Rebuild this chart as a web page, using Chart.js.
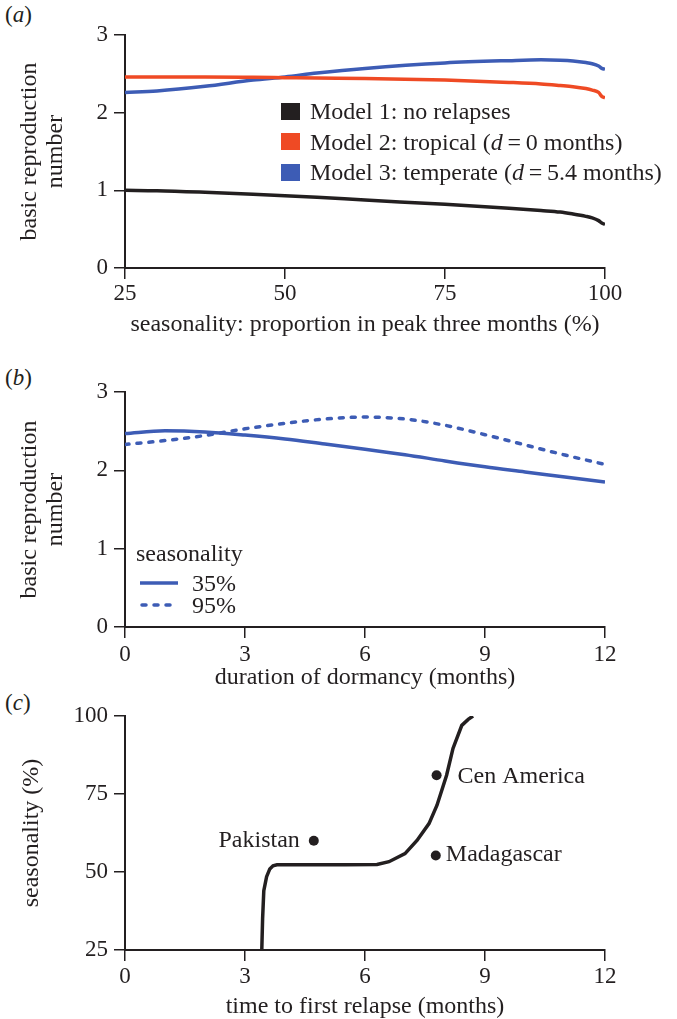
<!DOCTYPE html>
<html>
<head>
<meta charset="utf-8">
<script src="https://cdn.jsdelivr.net/npm/chart.js@4.4.1/dist/chart.umd.min.js"></script>
<style>
  body { margin: 0; background: #fff; width: 677px; height: 1019px; position: relative; overflow: hidden;
         font-family: "Liberation Serif", "DejaVu Serif", serif; color: #231f20; }
  .panel { position: absolute; left: 0; width: 677px; }
  .panel canvas { display: block; }
  .tag { position: absolute; left: 5px; font-size: 23px; line-height: 26px; }
  .leg-a { position: absolute; left: 281px; top: 96px; font-size: 24px; }
  .leg-a .row { height: 30.5px; line-height: 30px; white-space: nowrap; display: flex; align-items: center; }
  .leg-a .sw { width: 19px; height: 17px; margin-right: 10px; }
  .leg-b { position: absolute; left: 136px; font-size: 24px; }
  .leg-b .head { position: absolute; top: 199px; left: 0; line-height: 28px; white-space: nowrap; }
  .leg-b .row { position: absolute; left: 4px; white-space: nowrap; display: flex; align-items: center; height: 24px; }
  .leg-b canvas { margin-right: 14px; }
</style>
</head>
<body>

<div class="tag" style="top:2px">(<i>a</i>)</div>
<div class="tag" style="top:365px">(<i>b</i>)</div>
<div class="tag" style="top:690px">(<i>c</i>)</div>

<div class="panel" style="top:0;height:340px"><canvas id="chartA" width="677" height="340"></canvas></div>
<div class="panel" style="top:340px;height:353px"><canvas id="chartB" width="677" height="353"></canvas></div>
<div class="panel" style="top:691px;height:331px"><canvas id="chartC" width="677" height="331"></canvas></div>

<div class="leg-a" id="legA"></div>
<div class="panel" style="top:340px;height:0"><div class="leg-b" id="legB"></div></div>

<script>
// (a) R0 against seasonality
const seasonality = [25, 30, 37.5, 45, 50, 55, 62.5, 75, 85, 90, 93, 95, 97, 98, 99, 99.5, 100];
const r0NoRelapse = [1.00, 0.995, 0.975, 0.95, 0.93, 0.91, 0.875, 0.82, 0.77, 0.74, 0.72, 0.695, 0.665, 0.645, 0.61, 0.58, 0.56];
const r0Tropical  = [2.46, 2.46, 2.46, 2.455, 2.45, 2.445, 2.44, 2.42, 2.39, 2.37, 2.35, 2.335, 2.31, 2.29, 2.26, 2.21, 2.19];
const r0Temperate = [2.26, 2.28, 2.34, 2.42, 2.46, 2.51, 2.57, 2.64, 2.67, 2.68, 2.675, 2.665, 2.645, 2.63, 2.60, 2.57, 2.56];
const modelNames = ["Model 1: no relapses", "Model 2: tropical (d = 0 months)", "Model 3: temperate (d = 5.4 months)"];

// (b) R0 against dormancy
const dormancy = [0, 1, 2, 3, 4, 5, 6, 7, 8, 9, 10, 11, 12];
const r0Seas35 = [2.47, 2.505, 2.49, 2.45, 2.40, 2.335, 2.27, 2.20, 2.12, 2.045, 1.98, 1.915, 1.85];
const r0Seas95 = [2.33, 2.38, 2.445, 2.53, 2.60, 2.655, 2.68, 2.655, 2.575, 2.455, 2.325, 2.195, 2.075];
const seasLevels = ["35%", "95%"];

// (c) time to first relapse
const relapseTime = [3.42, 3.44, 3.47, 3.54, 3.62, 3.7, 3.8, 4.5, 5.5, 6.3, 6.6, 7.0, 7.3, 7.6, 7.8, 8.04, 8.2, 8.42, 8.58, 8.7];
const relapseSeas = [25, 35, 44, 48.5, 51, 52, 52.3, 52.3, 52.3, 52.4, 53.3, 55.9, 60.1, 65.5, 71.4, 81, 89.6, 97, 98.9, 100];
const sites = ["Pakistan", "Cen America", "Madagascar"];
const siteTime = [4.72, 7.79, 7.77];
const siteSeas = [60, 81, 55.3];

const FONT = "'Liberation Serif', 'DejaVu Serif', serif";
const INK = "#231f20";
const RED = "#ef4a24";
const BLUE = "#3d5cb5";

const pts = (xs, ys) => xs.map((x, i) => ({ x, y: ys[i] }));

function xAxis(min, max, step, title, h, tp, pb) {
  return {
    type: "linear", min, max,
    ticks: { stepSize: step, color: INK, font: { family: FONT, size: 23 }, padding: tp, maxRotation: 0 },
    grid: { drawOnChartArea: false, drawTicks: true, tickLength: 11, color: INK, lineWidth: 1.5 },
    border: { color: INK, width: 2 },
    title: { display: true, text: title, color: INK, font: { family: FONT, size: 24 }, padding: { top: 0, bottom: pb } },
    afterFit: (s) => { s.height = h; }
  };
}

function yAxis(min, max, step, title, pt, lh) {
  return {
    type: "linear", min, max,
    ticks: { stepSize: step, color: INK, font: { family: FONT, size: 23 }, padding: 6 },
    grid: { drawOnChartArea: false, drawTicks: true, tickLength: 11, color: INK, lineWidth: 1.5 },
    border: { color: INK, width: 2 },
    title: { display: true, text: title, color: INK, font: { family: FONT, size: 24, lineHeight: lh }, padding: { top: pt, bottom: 0 } },
    afterFit: (s) => { s.width = 125; }
  };
}

const common = {
  responsive: false,
  animation: false,
  plugins: { legend: { display: false }, tooltip: { enabled: false } },
  elements: { point: { radius: 0 } }
};

// ---- (a)
const chartA = new Chart(document.getElementById("chartA"), {
  type: "line",
  data: {
    datasets: [
      { label: modelNames[0], data: pts(seasonality, r0NoRelapse), borderColor: INK },
      { label: modelNames[1], data: pts(seasonality, r0Tropical), borderColor: RED },
      { label: modelNames[2], data: pts(seasonality, r0Temperate), borderColor: BLUE }
    ].map(d => ({ ...d, borderWidth: 3.5, cubicInterpolationMode: "monotone", fill: false }))
  },
  options: {
    ...common,
    layout: { padding: { top: 35, right: 72, left: 0, bottom: 0 } },
    scales: {
      x: xAxis(25, 100, 25, "seasonality: proportion in peak three months (%)", 72, 1, 0.6),
      y: yAxis(0, 3, 1, ["basic reproduction", "number"], 17, 1.083)
    }
  }
});

// legend (a), built from the dataset labels
const legA = document.getElementById("legA");
chartA.data.datasets.forEach(ds => {
  const row = document.createElement("div");
  row.className = "row";
  const txt = ds.label.replace(/\bd = /, "<i>d</i>\u2009=\u2009");
  row.innerHTML = `<span class="sw" style="background:${ds.borderColor}"></span><span>${txt}</span>`;
  legA.appendChild(row);
});

// ---- (b)
const chartB = new Chart(document.getElementById("chartB"), {
  type: "line",
  data: {
    datasets: [
      { label: seasLevels[0], data: pts(dormancy, r0Seas35), borderColor: BLUE, borderDash: [] },
      { label: seasLevels[1], data: pts(dormancy, r0Seas95), borderColor: BLUE, borderDash: [4, 8], borderCapStyle: "round" }
    ].map(d => ({ ...d, borderWidth: 3.5, cubicInterpolationMode: "monotone", fill: false }))
  },
  options: {
    ...common,
    layout: { padding: { top: 52, right: 72, left: 0, bottom: 0 } },
    scales: {
      x: xAxis(0, 12, 3, "duration of dormancy (months)", 66, 3.2, 0.6),
      y: yAxis(0, 3, 1, ["basic reproduction", "number"], 17, 1.083)
    }
  }
});

// legend (b)
const legB = document.getElementById("legB");
legB.innerHTML = '<div class="head">seasonality</div>';
const rowTops = [231, 253];
chartB.data.datasets.forEach((ds, i) => {
  const row = document.createElement("div");
  row.className = "row";
  row.style.top = rowTops[i] + "px";
  const c = document.createElement("canvas");
  c.width = 38; c.height = 8;
  const g = c.getContext("2d");
  g.strokeStyle = ds.borderColor;
  g.lineWidth = 3.5;
  g.lineCap = ds.borderCapStyle || "butt";
  g.setLineDash(ds.borderDash);
  g.beginPath();
  g.moveTo(ds.borderDash.length ? 2 : 0, 4);
  g.lineTo(38, 4);
  g.stroke();
  row.appendChild(c);
  const s = document.createElement("span");
  s.textContent = ds.label;
  row.appendChild(s);
  legB.appendChild(row);
});

// ---- (c)
const siteLabels = {
  id: "siteLabels",
  afterDatasetsDraw(chart) {
    const meta = chart.getDatasetMeta(1);
    const ctx = chart.ctx;
    const place = [[-14, 0, "right"], [21, 1, "left"], [10, -1, "left"]];
    ctx.save();
    ctx.font = "24px " + FONT;
    ctx.fillStyle = INK;
    ctx.textBaseline = "middle";
    meta.data.forEach((p, i) => {
      ctx.textAlign = place[i][2];
      ctx.fillText(sites[i], p.x + place[i][0], p.y + place[i][1]);
    });
    ctx.restore();
  }
};

new Chart(document.getElementById("chartC"), {
  type: "line",
  data: {
    datasets: [
      { label: "time to first relapse", data: pts(relapseTime, relapseSeas), borderColor: INK, borderWidth: 3.5, tension: 0, fill: false },
      { label: "sites", data: pts(siteTime, siteSeas), showLine: false, pointRadius: 5, pointBackgroundColor: INK, pointBorderWidth: 0 }
    ]
  },
  options: {
    ...common,
    layout: { padding: { top: 25, right: 72, left: 0, bottom: 0 } },
    scales: {
      x: xAxis(0, 12, 3, "time to first relapse (months)", 72, 2.2, 0.6),
      y: yAxis(25, 100, 25, "seasonality (%)", 17.6, 1.2)
    }
  },
  plugins: [siteLabels]
});
</script>
</body>
</html>
